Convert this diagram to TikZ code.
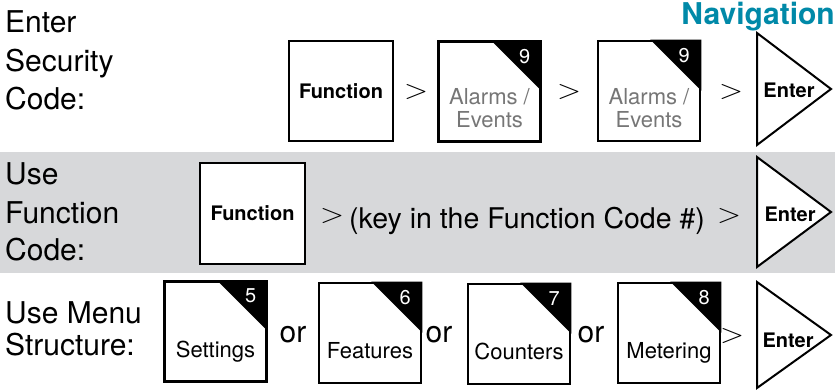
\documentclass[tikz,border=0pt]{standalone}
\usepackage{fontspec}
\setmainfont{TeX Gyre Heros}
\usetikzlibrary{calc}
\definecolor{navteal}{RGB}{0,137,168}
\definecolor{bandgray}{RGB}{215,216,218}
\definecolor{labelgray}{RGB}{118,118,118}
\newcommand\numkey[4]{% name, center, number, label nodes
  \node[keybox] (#1) at (#2) {};
  \fill (#1.north east) -- ++(-51,0) -- ++(51,51) -- cycle;
  \node[numtxt] (#1num) at ($(#1.north east)+(-17,16)$) {#3};
  #4}
\newcommand\bigGT{\resizebox{24pt}{14pt}{$>$}}
\begin{document}
\begin{tikzpicture}[x=1pt,y=-1pt,
  keybox/.style={draw=black, line width=2.6pt, fill=white, minimum width=102pt, minimum height=100pt, inner sep=0pt},
  bigtxt/.style={font=\fontsize{30}{34}\selectfont, inner sep=0pt},
  midtxt/.style={font=\fontsize{28.5}{34}\selectfont, inner sep=0pt},
  gtsign/.style={inner sep=0pt},
  keytxt/.style={font=\fontsize{22}{26}\selectfont, inner sep=0pt, anchor=base},
  graytxt/.style={keytxt, text=labelgray},
  boldtxt/.style={font=\bfseries\fontsize{20}{24}\selectfont, inner sep=0pt},
  numtxt/.style={font=\fontsize{20}{24}\selectfont, text=white, inner sep=0pt},
  entertri/.style={draw=black, line width=2pt, fill=white, line join=miter},
  navtxt/.style={font=\bfseries\fontsize{30}{34}\selectfont, text=navteal, inner sep=0pt, anchor=base east}]
\useasboundingbox (0,0) rectangle (835,390);
\fill[white] (0,0) rectangle (835,390);
\fill[bandgray] (0,152) rectangle (835,273);

% ---------- Row 1 ----------
\node[navtxt] (nav) at (835,25) {Navigation};
\node[bigtxt, anchor=base west] (r1a) at (5,33) {Enter};
\node[bigtxt, anchor=base west] (r1b) at (5,72) {Security};
\node[bigtxt, anchor=base west] (r1c) at (5,110) {Code:};

\node[keybox, minimum width=104pt] (fn1) at (341,91) {};
\node[boldtxt] (fn1lbl) at (fn1) {Function};
\node[gtsign] (g11) at (416,92) {\bigGT};
\numkey{al1}{489.5,91.5}{9}{%
  \node[graytxt] (al1l1) at (489.5,105) {Alarms /};
  \node[graytxt] (al1l2) at (489.5,128) {Events};}
\node[gtsign] (g12) at (569,92) {\bigGT};
\numkey{al2}{649,91}{9}{%
  \node[graytxt] (al2l1) at (649,105) {Alarms /};
  \node[graytxt] (al2l2) at (649,128) {Events};}
\node[gtsign] (g13) at (731,92) {\bigGT};
\draw[entertri] (757,33) coordinate (e1a) -- (831,89) coordinate (e1tip) -- (757,145) coordinate (e1b) -- cycle;
\node[boldtxt] (ent1) at (789,90) {Enter};

% ---------- Row 2 ----------
\node[bigtxt, anchor=base west] (r2a) at (5,185) {Use};
\node[bigtxt, anchor=base west] (r2b) at (5,223) {Function};
\node[bigtxt, anchor=base west] (r2c) at (5,260) {Code:};
\node[keybox, minimum width=105pt, minimum height=101pt] (fn2) at (252.5,213.5) {};
\node[boldtxt] (fn2lbl) at (fn2) {Function};
\node[gtsign] (g21) at (332,216) {\bigGT};
\node[midtxt, anchor=base west] (keyin) at (349,229) {(key in the Function Code \#)};
\node[gtsign] (g22) at (729,216) {\bigGT};
\draw[entertri] (757,157) coordinate (e2a) -- (831,212) coordinate (e2tip) -- (757,267) coordinate (e2b) -- cycle;
\node[boldtxt] (ent2) at (790,214) {Enter};

% ---------- Row 3 ----------
\node[bigtxt, anchor=base west] (r3a) at (5,323) {Use Menu};
\node[bigtxt, anchor=base west] (r3b) at (5,355) {Structure:};
\numkey{set}{215.5,331.5}{5}{\node[keytxt] (setl) at (215.5,357) {Settings};}
\node[bigtxt, anchor=base] (or1) at (293,342) {or};
\numkey{fea}{370,333}{6}{\node[keytxt] (feal) at (370,358) {Features};}
\node[bigtxt, anchor=base] (or2) at (439,342) {or};
\numkey{cnt}{519,334}{7}{\node[keytxt] (cntl) at (519,359) {Counters};}
\node[bigtxt, anchor=base] (or3) at (591,342) {or};
\numkey{met}{669,333}{8}{\node[keytxt] (metl) at (669,358) {Metering};}
\node[gtsign] (g31) at (732,336) {\bigGT};
\draw[entertri] (757,282) coordinate (e3a) -- (831,335) coordinate (e3tip) -- (757,388) coordinate (e3b) -- cycle;
\node[boldtxt] (ent3) at (788,340) {Enter};
\end{tikzpicture}
\end{document}
